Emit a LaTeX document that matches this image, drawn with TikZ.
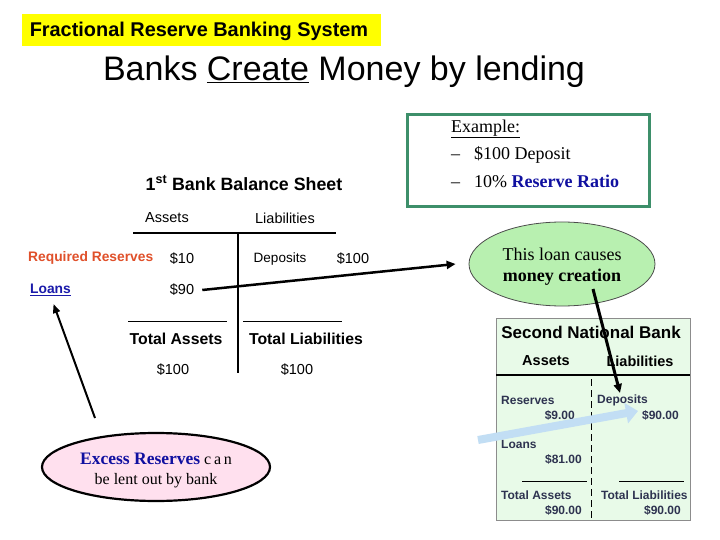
\documentclass[tikz,border=0pt]{standalone}
\usepackage{fontspec}
\setmainfont{Liberation Serif}
\setsansfont{Liberation Sans}
\usetikzlibrary{shapes.geometric,arrows.meta}
\definecolor{ylw}{HTML}{FFFF00}
\definecolor{exgreen}{HTML}{3D8F6A}
\definecolor{rrorange}{HTML}{E0502A}
\definecolor{lnblue}{HTML}{1A1AAA}
\definecolor{ratioblue}{HTML}{1010A0}
\definecolor{ellgreen}{HTML}{B8F0B0}
\definecolor{ellpink}{HTML}{FFE0EE}
\definecolor{boxfill}{HTML}{E8FAE8}
\definecolor{navy}{HTML}{2E3350}
\definecolor{lblue}{HTML}{C2DEF4}
\tikzset{
  sheet/.style={font=\sffamily\fontsize{14.5}{16}\selectfont, inner sep=0pt},
  sheetb/.style={font=\sffamily\bfseries\fontsize{15.8}{17}\selectfont, inner sep=0pt},
  snb/.style={font=\sffamily\bfseries\fontsize{12}{13}\selectfont, text=navy, inner sep=0pt},
  snbh/.style={font=\sffamily\bfseries\fontsize{14.5}{16}\selectfont, text=black, inner sep=0pt},
  exline/.style={font=\rmfamily\fontsize{18}{20}\selectfont, inner sep=0pt, anchor=west},
  blk/.style={draw=black, line width=2.5pt, -{Triangle[length=9pt,width=8pt]}},
}
\begin{document}
\begin{tikzpicture}[x=1pt,y=-1pt]
\useasboundingbox (0,0) rectangle (720,540);
\fill[white] (0,0) rectangle (720,540);

% title box
\node[fill=ylw, minimum width=359pt, minimum height=32pt, inner sep=0pt, anchor=north west] (ttl) at (22,14) {};
\node[font=\sffamily\bfseries\fontsize{19.9}{22}\selectfont, inner sep=0pt] (ttltext) at (199,31) {Fractional Reserve Banking System};

\node[font=\sffamily\fontsize{34}{38}\selectfont, inner sep=0pt] (head) at (344,72) {Banks \underline{Create} Money by lending};

% example box
\node[draw=exgreen, line width=3pt, minimum width=242pt, minimum height=92pt, inner sep=0pt, anchor=north west] (exbox) at (406,113) {};
\node[exline] (ex1) at (451,129) {\underline{Example:}};
\node[exline] (ex2) at (451,155) {–\hspace{14pt}\$100 Deposit};
\node[exline] (ex3) at (451,181) {–\hspace{14pt}10\% \textbf{\textcolor{ratioblue}{Reserve Ratio}}};

% first balance sheet
\node[font=\sffamily\bfseries\fontsize{17.8}{20}\selectfont, inner sep=0pt] (bs1) at (244,183) {1\textsuperscript{st} Bank Balance Sheet};
\node[sheet] (as1) at (167,218) {Assets};
\node[sheet] (li1) at (285,218) {Liabilities};
\draw[line width=2pt] (133,233) -- (336,233);
\draw[line width=2pt] (238,233) -- (238,373);
\node[font=\sffamily\bfseries\fontsize{13.8}{15}\selectfont, text=rrorange, inner sep=0pt, anchor=west] (rr) at (28,258) {Required Reserves};
\node[sheet] (n10) at (182,259) {\$10};
\node[sheet, font=\sffamily\fontsize{13.5}{15}\selectfont] (dep1) at (280,259) {Deposits};
\node[sheet] (n100a) at (353,259) {\$100};
\node[font=\sffamily\bfseries\fontsize{13.8}{15}\selectfont, text=lnblue, inner sep=0pt, anchor=west] (loans) at (30,290) {\underline{Loans}};
\node[sheet] (n90) at (182,290) {\$90};
\draw[line width=1pt] (128,321) -- (227,321);
\draw[line width=1pt] (243,321) -- (342,321);
\node[sheetb] (ta1) at (176,339) {Total Assets};
\node[sheetb] (tl1) at (306,339) {Total Liabilities};
\node[sheet] (tav1) at (173,370) {\$100};
\node[sheet] (tlv1) at (297,370) {\$100};

% green ellipse
\node[ellipse, draw=black!70, line width=0.8pt, fill=ellgreen, minimum width=186pt, minimum height=84pt, inner sep=0pt] (ell1) at (562,264) {};
\node[align=center, inner sep=0pt, font=\rmfamily\fontsize{18}{21}\selectfont] (ell1text) at (562,267) {This loan causes\\\textbf{money creation}};

% second national bank
\node[draw=black!45, line width=0.8pt, fill=boxfill, minimum width=194pt, minimum height=202pt, inner sep=0pt, anchor=north west] (snbbox) at (496,318) {};
\node[font=\sffamily\bfseries\fontsize{17}{19}\selectfont, inner sep=0pt] (snbt) at (591,332) {Second National Bank};
\node[snbh] (as2) at (546,361) {Assets};
\node[snbh] (li2) at (640,361) {Liabilities};
\draw[line width=1.5pt] (496,375) -- (690,375);
\draw[line width=1pt, dash pattern=on 7pt off 4pt] (591,379) -- (591,520);
\node[snb, anchor=west] (res2) at (501,400) {Reserves};
\node[snb, anchor=east] (res2v) at (575,415) {\$9.00};
\node[snb, anchor=west] (dep2) at (597,400) {Deposits};
\node[snb, anchor=east] (dep2v) at (679,415) {\$90.00};
\node[snb, anchor=west] (loa2) at (501,444) {Loans};
\node[snb, anchor=east] (loa2v) at (582,459) {\$81.00};
\draw[line width=1pt] (522,481) -- (587,481);
\draw[line width=1pt] (619,481) -- (684,481);
\node[snb, anchor=west] (ta2) at (501,495) {Total Assets};
\node[snb, anchor=east] (ta2v) at (582,510) {\$90.00};
\node[snb, anchor=west] (tl2) at (601,495) {Total Liabilities};
\node[snb, anchor=east] (tl2v) at (681,510) {\$90.00};

% pink ellipse
\node[ellipse, draw=black, line width=2.2pt, fill=ellpink, minimum width=228pt, minimum height=68pt, inner sep=0pt] (ell2) at (156,467) {};
\node[align=center, inner sep=0pt, font=\rmfamily\fontsize{16}{20}\selectfont] (ell2text) at (156,470) {{\fontsize{17.5}{20}\selectfont\textbf{\textcolor{ratioblue}{Excess Reserves}}} c\,a\,n\\be lent out by bank};

% connectors
\draw[blk] ([xshift=8pt]n90.east) -- ([xshift=-13pt]ell1.west);
\coordinate (c1) at (593,289);
\coordinate (c2) at (620,393);
\draw[blk, line width=3pt] (c1) -- (c2);
\coordinate (c3) at (95,418);
\draw[draw=black, line width=2pt, -{Triangle[length=9pt,width=7pt]}] (c3) -- ([xshift=3pt,yshift=-8pt]loans.south);
\coordinate (c4) at (478,440);
\coordinate (c5) at (638,411);
\draw[draw=lblue, line width=8pt, -{Triangle[length=12pt,width=20pt]}] (c4) -- (c5);
\end{tikzpicture}
\end{document}
